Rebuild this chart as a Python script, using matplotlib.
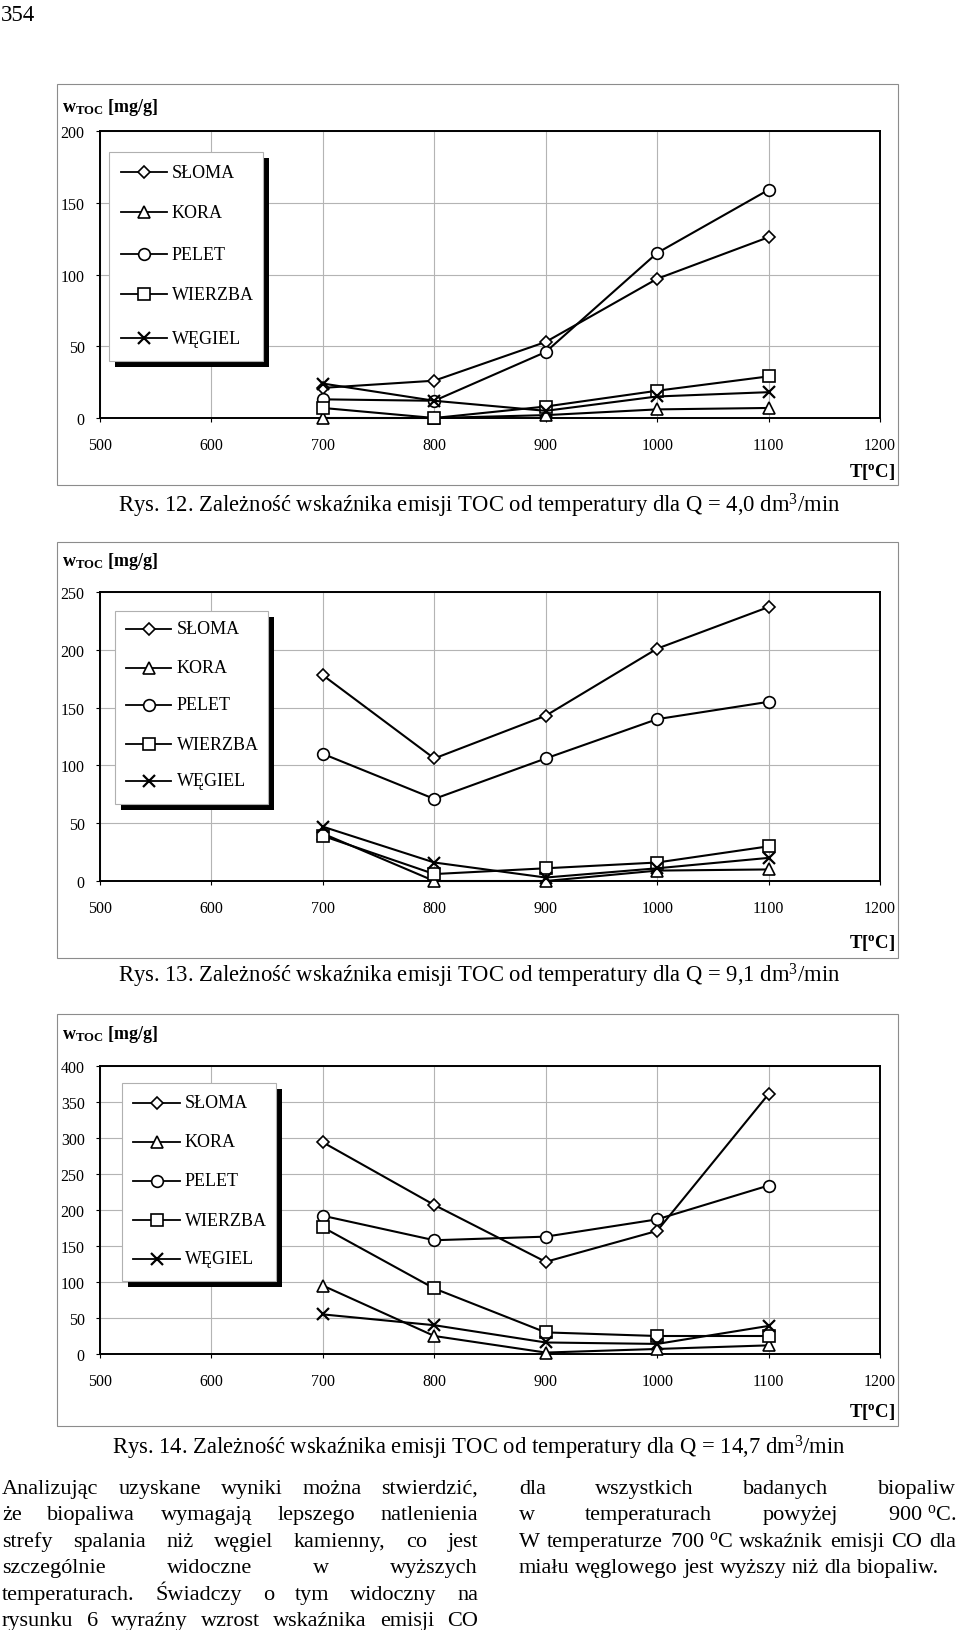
"""Page 354: TOC emission index vs temperature for three air flows."""
import matplotlib
matplotlib.use("Agg")
import matplotlib.pyplot as plt
from matplotlib.lines import Line2D
from matplotlib.patches import Rectangle

W, H, DPI = 960, 1631, 100

plt.rcParams.update({
    "font.family": ["Liberation Serif", "DejaVu Serif"],
    "mathtext.fontset": "custom",
    "mathtext.rm": "Liberation Serif",
    "mathtext.it": "Liberation Serif:italic",
    "mathtext.bf": "Liberation Serif:bold",
    "mathtext.default": "regular",
})

# --- data ----------------------------------------------------------------
TEMPS = [700, 800, 900, 1000, 1100]
SERIES = ["SŁOMA", "KORA", "PELET", "WIERZBA", "WĘGIEL"]

# Q = 4,0 dm3/min
sloma_q40 = [21, 26, 53, 97, 126]
kora_q40 = [0, 0, 2, 6, 7]
pelet_q40 = [13, 12, 46, 115, 159]
wierzba_q40 = [7, 0, 8, 19, 29]
wegiel_q40 = [24, 12, 5, 15, 18]

# Q = 9,1 dm3/min
sloma_q91 = [178, 106, 143, 201, 237]
kora_q91 = [41, 0, 0, 9, 10]
pelet_q91 = [110, 71, 106, 140, 155]
wierzba_q91 = [39, 6, 11, 16, 30]
wegiel_q91 = [47, 16, 3, 11, 20]

# Q = 14,7 dm3/min
sloma_q147 = [294, 207, 128, 171, 361]
kora_q147 = [95, 25, 2, 7, 12]
pelet_q147 = [192, 158, 163, 187, 234]
wierzba_q147 = [176, 91, 30, 25, 25]
wegiel_q147 = [55, 40, 16, 14, 39]

CAPTIONS = [
    "Rys. 12. Zależność wskaźnika emisji TOC od temperatury dla Q = 4,0 dm$^{3}$/min",
    "Rys. 13. Zależność wskaźnika emisji TOC od temperatury dla Q = 9,1 dm$^{3}$/min",
    "Rys. 14. Zależność wskaźnika emisji TOC od temperatury dla Q = 14,7 dm$^{3}$/min",
]

LEFT_COL = [
    "Analizując uzyskane wyniki można stwierdzić,",
    "że biopaliwa wymagają lepszego natlenienia",
    "strefy spalania niż węgiel kamienny, co jest",
    "szczególnie widoczne w wyższych",
    "temperaturach. Świadczy o tym widoczny na",
    "rysunku 6 wyraźny wzrost wskaźnika emisji CO",
]
RIGHT_COL = [
    "dla wszystkich badanych biopaliw",
    "w temperaturach powyżej 900\u00a0$^{o}$C.",
    "W temperaturze 700\u00a0$^{o}$C wskaźnik emisji CO dla",
    "miału węglowego jest wyższy niż dla biopaliw.",
]

# --- style ----------------------------------------------------------------
MARKERS = {"SŁOMA": ("D", 6.6), "KORA": ("^", 8.4), "PELET": ("o", 8.4),
           "WIERZBA": ("s", 8.2), "WĘGIEL": ("x", 9.2)}
FRAME_C = "#8c8c8c"
GRID_C = "#b4b4b4"

PANELS = [
    dict(frame=(57, 85, 898, 486), plot=(100, 132, 880, 419), ymax=200,
         ylab=108, tlab=472, legend=(109, 153, 263, 362),
         leg_y=[173, 213, 255, 295, 339], leg_hx=(121, 167), leg_tx=172,
         cap_y=513,
         data=[sloma_q40, kora_q40, pelet_q40, wierzba_q40, wegiel_q40]),
    dict(frame=(57, 543, 898, 959), plot=(100, 593, 880, 882), ymax=250,
         ylab=562, tlab=943, legend=(115, 612, 268, 805),
         leg_y=[630, 669, 706, 745, 782], leg_hx=(126, 171), leg_tx=177,
         cap_y=983,
         data=[sloma_q91, kora_q91, pelet_q91, wierzba_q91, wegiel_q91]),
    dict(frame=(57, 1015, 898, 1427), plot=(100, 1067, 880, 1355), ymax=400,
         ylab=1035, tlab=1412, legend=(122, 1084, 276, 1282),
         leg_y=[1104, 1143, 1182, 1221, 1260], leg_hx=(133, 180), leg_tx=185,
         cap_y=1455,
         data=[sloma_q147, kora_q147, pelet_q147, wierzba_q147, wegiel_q147]),
]


def fx(x):
    return x / W


def fy(y):
    return 1 - y / H


def marker_kw(name):
    m, ms = MARKERS[name]
    return dict(marker=m, ms=ms, mfc="white", mec="black",
                mew=1.6 if m == "x" else 1.2)


def draw_panel(fig, p, caption):
    x0, y0, x1, y1 = p["frame"]
    fig.add_artist(Rectangle((fx(x0), fy(y1)), (x1 - x0) / W, (y1 - y0) / H,
                             transform=fig.transFigure, fill=False,
                             ec=FRAME_C, lw=0.8))

    l, t, r, b = p["plot"]
    ax = fig.add_axes([fx(l), fy(b), (r - l) / W, (b - t) / H])
    for name, vals in zip(SERIES, p["data"]):
        ax.plot(TEMPS, vals, color="black", lw=1.5, clip_on=False, zorder=3,
                **marker_kw(name))
    ax.set_xlim(500, 1200)
    ax.set_ylim(0, p["ymax"])
    ax.set_xticks(range(500, 1201, 100))
    ax.set_yticks(range(0, p["ymax"] + 1, 50))
    ax.grid(True, color=GRID_C, lw=0.8)
    ax.set_axisbelow(True)
    for s in ax.spines.values():
        s.set_color("black")
        s.set_linewidth(1.4)
    ax.tick_params(axis="both", direction="out", length=3, width=0.8,
                   labelsize=11.5, colors="black")
    ax.tick_params(axis="x", pad=10.5)
    ax.tick_params(axis="y", pad=8)

    fig.text(fx(62), fy(p["ylab"]), r"w$_{\mathbf{TOC}}$ [mg/g]",
             fontsize=13, fontweight="bold", ha="left", va="center")
    fig.text(fx(895), fy(p["tlab"]), r"T[$^{\mathbf{o}}$C]",
             fontsize=13.5, fontweight="bold", ha="right", va="center")

    # legend box with a solid drop shadow
    lx0, ly0, lx1, ly1 = p["legend"]
    fig.add_artist(Rectangle((fx(lx0 + 6), fy(ly1 + 6)), (lx1 - lx0) / W,
                             (ly1 - ly0) / H, transform=fig.transFigure,
                             fc="black", ec="black", lw=0))
    fig.add_artist(Rectangle((fx(lx0), fy(ly1)), (lx1 - lx0) / W,
                             (ly1 - ly0) / H, transform=fig.transFigure,
                             fc="white", ec="#b0b0b0", lw=0.8))
    hx0, hx1 = p["leg_hx"]
    for name, yy in zip(SERIES, p["leg_y"]):
        fig.add_artist(Line2D([fx(hx0), fx(hx1)], [fy(yy), fy(yy)],
                              transform=fig.transFigure, color="black", lw=1.3))
        fig.add_artist(Line2D([fx((hx0 + hx1) / 2)], [fy(yy)],
                              transform=fig.transFigure, ls="none",
                              **marker_kw(name)))
        fig.text(fx(p["leg_tx"]), fy(yy), name, fontsize=13,
                 ha="left", va="center")

    fig.text(fx(479), fy(p["cap_y"]), caption, fontsize=16.25,
             ha="center", va="baseline")


def justified(fig, lines, x0, x1, baselines, size, last_left=False):
    rend = fig.canvas.get_renderer()
    space = size * DPI / 72 * 0.25
    for i, (line, yb) in enumerate(zip(lines, baselines)):
        words = line.split(" ")
        arts = [fig.text(0, fy(yb), w, fontsize=size, ha="left",
                         va="baseline") for w in words]
        widths = [a.get_window_extent(rend).width for a in arts]
        if last_left and i == len(lines) - 1:
            gap = space
        else:
            gap = (x1 - x0 - sum(widths)) / max(len(words) - 1, 1)
        x = x0
        for a, w in zip(arts, widths):
            a.set_x(fx(x))
            x += w + gap


fig = plt.figure(figsize=(W / DPI, H / DPI), dpi=DPI)
fig.text(fx(1), fy(21), "354", fontsize=16.5, ha="left", va="baseline")

for p, cap in zip(PANELS, CAPTIONS):
    draw_panel(fig, p, cap)

body_y = [1494, 1520.5, 1547, 1573.5, 1600, 1626.5]
justified(fig, LEFT_COL, 2, 478, body_y, 16)
justified(fig, RIGHT_COL, 519, 956, body_y[:4], 16, last_left=True)

fig.savefig("out.png", dpi=DPI, facecolor="white")
